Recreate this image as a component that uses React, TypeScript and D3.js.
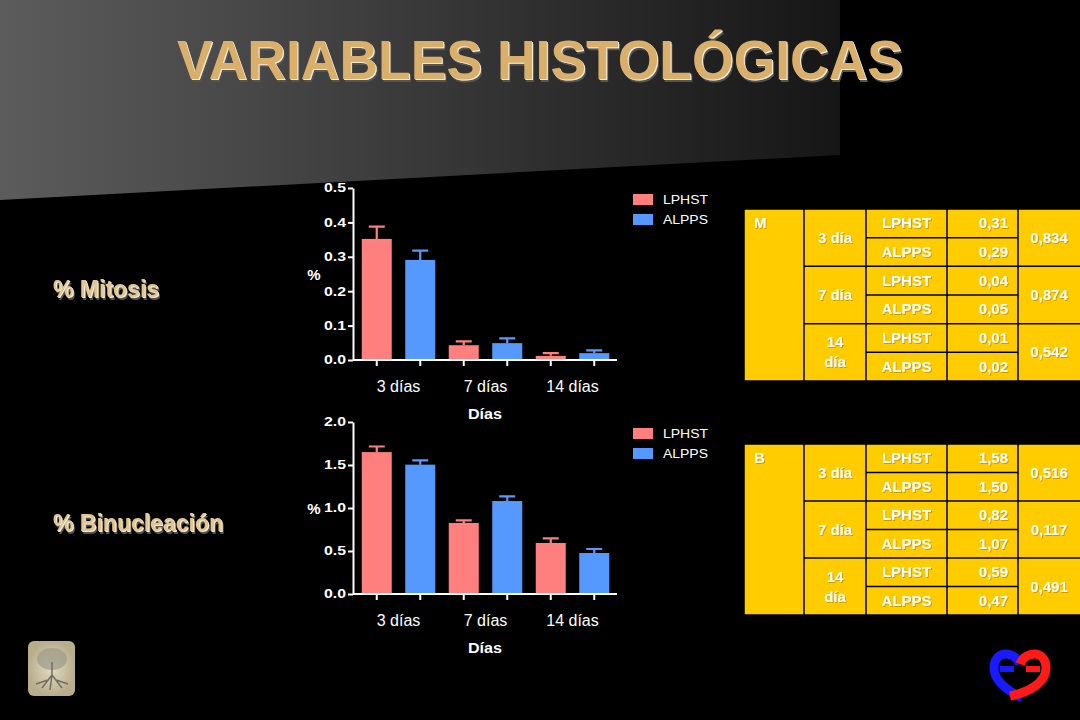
import { useEffect, useRef } from 'react'
import * as d3 from 'd3'

const days = ['3 días', '7 días', '14 días']
const series = ['LPHST', 'ALPPS']
const seriesColors = ['#FF7F7F', '#5599FF']

const mitosisLphst = [0.352, 0.043, 0.012]
const mitosisLphstSem = [0.036, 0.011, 0.008]
const mitosisAlpps = [0.291, 0.049, 0.020]
const mitosisAlppsSem = [0.027, 0.014, 0.008]
const mitosisTicks = [0, 0.1, 0.2, 0.3, 0.4, 0.5]

const binucLphst = [1.65, 0.826, 0.593]
const binucLphstSem = [0.065, 0.030, 0.054]
const binucAlpps = [1.504, 1.081, 0.477]
const binucAlppsSem = [0.049, 0.054, 0.046]
const binucTicks = [0, 0.5, 1.0, 1.5, 2.0]

const tableDays = [['3 día'], ['7 día'], ['14', 'día']]
const mitosisTable = ['0,31', '0,29', '0,04', '0,05', '0,01', '0,02']
const mitosisP = ['0,834', '0,874', '0,542']
const binucTable = ['1,58', '1,50', '0,82', '1,07', '0,59', '0,47']
const binucP = ['0,516', '0,117', '0,491']

const FONT = '"Liberation Sans", Arial, sans-serif'
const TAN = '#D9AF6A'

type Sel = d3.Selection<SVGSVGElement, unknown, null, undefined>

function drawBarChart(
  svg: Sel,
  opts: {
    top: number
    bottom: number
    yMax: number
    ticks: number[]
    lphst: number[]
    lphstSem: number[]
    alpps: number[]
    alppsSem: number[]
    legendY: number
  }
) {
  const axisX = 353
  const x0 = d3.scaleBand<string>().domain(days).range([355, 616]).padding(0)
  const x1 = d3.scaleBand<string>().domain(series).range([0, x0.bandwidth()]).padding(0)
  const barW = 30
  const y = d3.scaleLinear().domain([0, opts.yMax]).range([opts.bottom, opts.top])

  const g = svg.append('g')

  const rows = days.flatMap((d, i) => [
    { day: d, s: 'LPHST', v: opts.lphst[i], e: opts.lphstSem[i], c: seriesColors[0] },
    { day: d, s: 'ALPPS', v: opts.alpps[i], e: opts.alppsSem[i], c: seriesColors[1] },
  ])
  const cx = (d: { day: string; s: string }) => (x0(d.day) as number) + (x1(d.s) as number) + x1.bandwidth() / 2

  // error bars (upper half only, like the original)
  g.selectAll('.err')
    .data(rows)
    .enter()
    .append('path')
    .attr('d', d => {
      const c = cx(d)
      return `M${c},${y(d.v)}V${y(d.v + d.e)}M${c - 8},${y(d.v + d.e)}H${c + 8}`
    })
    .attr('stroke', d => d.c)
    .attr('stroke-width', 2.2)
    .attr('fill', 'none')

  // bars
  g.selectAll('.bar')
    .data(rows)
    .enter()
    .append('rect')
    .attr('x', d => cx(d) - barW / 2)
    .attr('y', d => y(d.v))
    .attr('width', barW)
    .attr('height', d => y(0) - y(d.v))
    .attr('fill', d => d.c)

  // y axis
  const yAxis = g.append('g')
    .attr('transform', `translate(${axisX},0)`)
    .call(d3.axisLeft(y).tickValues(opts.ticks).tickFormat(d3.format('.1f')).tickSize(5).tickSizeOuter(0))
  yAxis.select('.domain').attr('stroke', '#fff').attr('stroke-width', 2)
  yAxis.selectAll('.tick line').attr('stroke', '#fff').attr('stroke-width', 2)
  yAxis.selectAll('.tick text')
    .attr('fill', '#fff')
    .attr('x', -7)
    .style('font-family', FONT)
    .style('font-weight', 'bold')
    .style('font-size', '12px')
    .attr('textLength', 22)
    .attr('lengthAdjust', 'spacingAndGlyphs')

  // x axis
  const xAxisG = g.append('g').attr('transform', `translate(0,${y(0)})`)
  xAxisG.append('line')
    .attr('x1', axisX)
    .attr('x2', 617)
    .attr('stroke', '#fff')
    .attr('stroke-width', 2)
  xAxisG.selectAll('.xt')
    .data(rows)
    .enter()
    .append('line')
    .attr('x1', d => cx(d))
    .attr('x2', d => cx(d))
    .attr('y1', 0)
    .attr('y2', 6)
    .attr('stroke', '#fff')
    .attr('stroke-width', 2)
  xAxisG.selectAll('.xl')
    .data(days)
    .enter()
    .append('text')
    .attr('x', d => (x0(d) as number) + x0.bandwidth() / 2)
    .attr('y', 32)
    .attr('text-anchor', 'middle')
    .attr('fill', '#fff')
    .style('font-family', FONT)
    .style('font-size', '16px')
    .text(d => d)

  // axis titles
  g.append('text')
    .attr('x', 485)
    .attr('y', y(0) + 59)
    .attr('text-anchor', 'middle')
    .attr('fill', '#fff')
    .style('font-family', FONT)
    .style('font-weight', 'bold')
    .style('font-size', '14px')
    .attr('textLength', 34)
    .attr('lengthAdjust', 'spacingAndGlyphs')
    .text('Días')
  g.append('text')
    .attr('x', 314)
    .attr('y', (opts.top + opts.bottom) / 2 + 6)
    .attr('text-anchor', 'middle')
    .attr('fill', '#fff')
    .style('font-family', FONT)
    .style('font-weight', 'bold')
    .style('font-size', '15px')
    .text('%')

  // legend
  const lg = g.append('g').attr('transform', `translate(633,${opts.legendY})`)
  series.forEach((s, i) => {
    lg.append('rect')
      .attr('x', 0)
      .attr('y', i * 20)
      .attr('width', 20)
      .attr('height', 11)
      .attr('fill', seriesColors[i])
    lg.append('text')
      .attr('x', 30)
      .attr('y', i * 20 + 10)
      .attr('fill', '#fff')
      .style('font-family', FONT)
      .style('font-size', '12px')
      .attr('textLength', 45)
      .attr('lengthAdjust', 'spacingAndGlyphs')
      .text(s)
  })
}

function drawTable(svg: Sel, top: number, bottom: number, letter: string, values: string[], pvals: string[]) {
  const cols = [744, 804, 866, 947, 1018, 1084]
  const rowIdx = d3.range(6)
  const y = d3.scaleBand<number>().domain(rowIdx).range([top, bottom]).padding(0)
  const g = svg.append('g')

  g.append('rect')
    .attr('x', cols[0])
    .attr('y', top)
    .attr('width', cols[5] - cols[0])
    .attr('height', bottom - top)
    .attr('fill', '#FFCC00')
    .attr('stroke', '#000')
    .attr('stroke-width', 1.5)

  g.selectAll('.vl')
    .data(cols.slice(1, 5))
    .enter()
    .append('line')
    .attr('x1', d => d)
    .attr('x2', d => d)
    .attr('y1', top)
    .attr('y2', bottom)
    .attr('stroke', '#000')
    .attr('stroke-width', 1.5)

  rowIdx.slice(1).forEach(r => {
    const major = r % 2 === 0
    g.append('line')
      .attr('x1', major ? cols[1] : cols[2])
      .attr('x2', major ? cols[5] : cols[4])
      .attr('y1', y(r) as number)
      .attr('y2', y(r) as number)
      .attr('stroke', '#000')
      .attr('stroke-width', 1.5)
  })

  const txt = (x: number, yy: number, s: string, anchor: string) => {
    g.append('text')
      .attr('x', x)
      .attr('y', yy)
      .attr('text-anchor', anchor)
      .attr('fill', '#fff')
      .attr('filter', 'url(#tableShadow)')
      .style('font-family', FONT)
      .style('font-weight', 'bold')
      .style('font-size', '15px')
      .text(s)
  }

  txt(754, top + 19, letter, 'start')
  const bw = y.bandwidth()
  tableDays.forEach((lines, i) => {
    const mid = (y(i * 2) as number) + bw
    lines.forEach((l, j) => {
      txt((cols[1] + cols[2]) / 2, mid + 5 + (j - (lines.length - 1) / 2) * 20, l, 'middle')
    })
    txt((cols[4] + 1080) / 2, mid + 5, pvals[i], 'middle')
  })
  rowIdx.forEach(r => {
    const cy = (y(r) as number) + bw / 2 + 5
    txt((cols[2] + cols[3]) / 2, cy, series[r % 2], 'middle')
    txt(cols[4] - 10, cy, values[r], 'end')
  })
}

export default function App() {
  const svgRef = useRef<SVGSVGElement>(null)

  useEffect(() => {
    if (!svgRef.current) return
    const svg = d3.select(svgRef.current)
    svg.selectAll('*').remove()

    const defs = svg.append('defs')
    const grad = defs.append('linearGradient').attr('id', 'bgGrad').attr('x1', 0).attr('x2', 1).attr('y1', 0).attr('y2', 0)
    grad.append('stop').attr('offset', '0%').attr('stop-color', '#5c5c5c')
    grad.append('stop').attr('offset', '100%').attr('stop-color', '#161616')
    const tree = defs.append('radialGradient').attr('id', 'treeGrad')
    tree.append('stop').attr('offset', '0%').attr('stop-color', '#e4dcc2')
    tree.append('stop').attr('offset', '100%').attr('stop-color', '#b8ae8c')

    // emboss filter for the title / side labels
    const emb = defs.append('filter').attr('id', 'emboss').attr('x', '-5%').attr('y', '-20%').attr('width', '110%').attr('height', '150%')
    emb.append('feOffset').attr('in', 'SourceAlpha').attr('dx', 2).attr('dy', 3).attr('result', 'o1')
    emb.append('feFlood').attr('flood-color', '#555').attr('result', 'f1')
    emb.append('feComposite').attr('in', 'f1').attr('in2', 'o1').attr('operator', 'in').attr('result', 's1')
    emb.append('feOffset').attr('in', 'SourceAlpha').attr('dx', 1).attr('dy', 1).attr('result', 'o2')
    emb.append('feFlood').attr('flood-color', '#f4ecdc').attr('result', 'f2')
    emb.append('feComposite').attr('in', 'f2').attr('in2', 'o2').attr('operator', 'in').attr('result', 's2')
    const m = emb.append('feMerge')
    m.append('feMergeNode').attr('in', 's1')
    m.append('feMergeNode').attr('in', 's2')
    m.append('feMergeNode').attr('in', 'SourceGraphic')

    const ts = defs.append('filter').attr('id', 'tableShadow')
    ts.append('feDropShadow').attr('dx', 1).attr('dy', 1).attr('stdDeviation', 0.3).attr('flood-color', '#8a6000').attr('flood-opacity', 0.45)

    svg.append('rect').attr('width', 1080).attr('height', 720).attr('fill', '#000')
    svg.append('path').attr('d', 'M0,0H840V155L0,200Z').attr('fill', 'url(#bgGrad)')

    // title
    svg.append('text')
      .attr('x', 540)
      .attr('y', 79)
      .attr('fill', TAN)
      .attr('filter', 'url(#emboss)')
      .attr('text-anchor', 'middle')
      .style('font-family', FONT)
      .style('font-weight', 'bold')
      .style('font-size', '55px')
      .attr('textLength', 726)
      .attr('lengthAdjust', 'spacingAndGlyphs')
      .text('VARIABLES HISTOLÓGICAS')

    // side labels
    const side = (label: string, yy: number) => {
      svg.append('text').attr('x', 53).attr('y', yy).attr('fill', '#E2C690')
        .attr('filter', 'url(#emboss)')
        .style('font-family', FONT).style('font-weight', 'bold').style('font-size', '23px').text(label)
    }
    side('% Mitosis', 297)
    side('% Binucleación', 531)

    drawBarChart(svg as Sel, {
      top: 188, bottom: 360, yMax: 0.5, ticks: mitosisTicks,
      lphst: mitosisLphst, lphstSem: mitosisLphstSem, alpps: mitosisAlpps, alppsSem: mitosisAlppsSem,
      legendY: 194,
    })
    drawBarChart(svg as Sel, {
      top: 422, bottom: 594, yMax: 2, ticks: binucTicks,
      lphst: binucLphst, lphstSem: binucLphstSem, alpps: binucAlpps, alppsSem: binucAlppsSem,
      legendY: 428,
    })

    drawTable(svg as Sel, 209, 381, 'M', mitosisTable, mitosisP)
    drawTable(svg as Sel, 444, 615, 'B', binucTable, binucP)

    // tree logo
    svg.append('rect').attr('x', 28).attr('y', 641).attr('width', 47).attr('height', 55).attr('rx', 6)
      .attr('fill', 'url(#treeGrad)')
    svg.append('ellipse').attr('cx', 52).attr('cy', 659).attr('rx', 15).attr('ry', 11).attr('fill', '#9a9a8c').attr('opacity', 0.7)
    svg.append('path').attr('d', 'M52,662V675M52,675L42,688M52,675L62,688M52,675L50,690M48,680L36,684M56,680L68,684')
      .attr('stroke', '#6e6e64').attr('stroke-width', 1.5).attr('fill', 'none')

    // heart logo
    svg.append('path')
      .attr('d', 'M1020,664C1014,650 994,650 994,668C994,680 1006,690 1022,698')
      .attr('stroke', '#1a1aff').attr('stroke-width', 9).attr('fill', 'none')
    svg.append('path').attr('d', 'M1000,669H1014').attr('stroke', '#1a1aff').attr('stroke-width', 6)
    svg.append('path')
      .attr('d', 'M1020,664C1026,650 1046,650 1046,668C1046,682 1030,692 1010,696')
      .attr('stroke', '#ff1a1a').attr('stroke-width', 9).attr('fill', 'none')
    svg.append('path').attr('d', 'M1026,669H1040').attr('stroke', '#ff1a1a').attr('stroke-width', 6)
  }, [])

  return (
    <svg
      ref={svgRef}
      width={1080}
      height={720}
      style={{ position: 'absolute', left: 0, top: 0, display: 'block' }}
    />
  )
}
